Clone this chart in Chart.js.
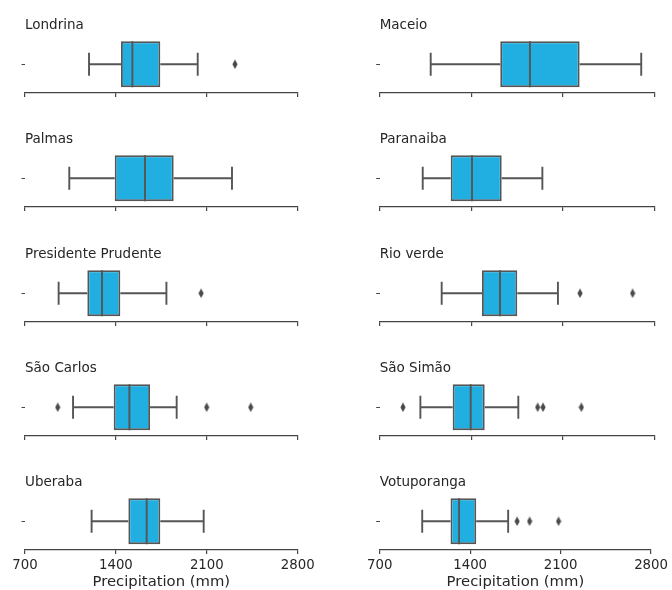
<!DOCTYPE html>
<html lang="en">
<head>
    <meta charset="UTF-8">
    <title>Precipitation by station</title>
    <script src="https://cdn.jsdelivr.net/npm/chart.js"></script>
    <style>
        html, body {
            margin: 0;
            padding: 0;
            background: #fff;
        }
        body {
            width: 672px;
            height: 590px;
            position: relative;
            overflow: hidden;
        }
        canvas {
            position: absolute;
        }
    </style>
</head>
<body>
    <div id="grid"></div>

    <script>
        // stations in row order (left, right)
        const stations = ['Londrina', 'Maceio', 'Palmas', 'Paranaiba', 'Presidente Prudente',
            'Rio verde', 'São Carlos', 'São Simão', 'Uberaba', 'Votuporanga'];
        const whiskerLow = [1193, 1090, 1041, 1029, 959, 1174, 1070, 1011, 1213, 1029];
        const q1 = [1439, 1622, 1391, 1243, 1180, 1482, 1383, 1258, 1496, 1248];
        const median = [1527, 1849, 1624, 1406, 1293, 1620, 1504, 1396, 1637, 1314];
        const q3 = [1742, 2229, 1845, 1633, 1434, 1752, 1663, 1503, 1742, 1447];
        const whiskerHigh = [2030, 2700, 2294, 1944, 1789, 2063, 1868, 1760, 2076, 1694];
        const outliers = [[2317], [], [], [], [2056], [2232, 2634],
            [952, 2099, 2438], [878, 1908, 1949, 2242], [], [1763, 1860, 2084]];
        const xTicks = [700, 1400, 2100, 2800];
        const xLabel = 'Precipitation (mm)';

        const boxFill = '#21afe1';
        const lineGray = '#555555';
        const axisGray = '#444444';
        const textColor = '#262626';
        const font = 'DejaVu Sans';

        // thin diamond marker like matplotlib's 'd'
        const diamond = document.createElement('canvas');
        diamond.width = 6;
        diamond.height = 10;
        const dctx = diamond.getContext('2d');
        dctx.fillStyle = '#4a4a4a';
        dctx.beginPath();
        dctx.moveTo(3, 0.3);
        dctx.lineTo(5.6, 5);
        dctx.lineTo(3, 9.7);
        dctx.lineTo(0.4, 5);
        dctx.closePath();
        dctx.fill();

        const BOX_HALF = 0.4;
        const CAP_HALF = 0.2;

        function seg(points) {
            return {
                type: 'line',
                data: points,
                borderColor: lineGray,
                borderWidth: 1.9,
                pointRadius: 0,
                fill: false,
                xAxisID: 'x',
                yAxisID: 'y2',
                order: 1
            };
        }

        const grid = document.getElementById('grid');

        stations.forEach((name, i) => {
            const col = i % 2;
            const row = Math.floor(i / 2);
            const last = row === 4;
            const top = Math.round(row * 114.3);
            const height = last ? 590 - top : 114;

            const canvas = document.createElement('canvas');
            canvas.width = 336;
            canvas.height = height;
            canvas.style.left = (col * 336) + 'px';
            canvas.style.top = top + 'px';
            grid.appendChild(canvas);

            const yWidth = col === 0 ? 25 : 43.7;
            const padRight = col === 0 ? 38.3 : 17.7;

            new Chart(canvas, {
                data: {
                    datasets: [
                        {
                            type: 'bar',
                            indexAxis: 'y',
                            data: [[q1[i], q3[i]]],
                            backgroundColor: boxFill,
                            borderColor: lineGray,
                            borderWidth: 1.9,
                            borderSkipped: false,
                            barPercentage: 0.8,
                            categoryPercentage: 1,
                            xAxisID: 'x',
                            yAxisID: 'y',
                            order: 2
                        },
                        seg([{ x: whiskerLow[i], y: 0 }, { x: q1[i], y: 0 }]),
                        seg([{ x: q3[i], y: 0 }, { x: whiskerHigh[i], y: 0 }]),
                        seg([{ x: whiskerLow[i], y: -CAP_HALF }, { x: whiskerLow[i], y: CAP_HALF }]),
                        seg([{ x: whiskerHigh[i], y: -CAP_HALF }, { x: whiskerHigh[i], y: CAP_HALF }]),
                        seg([{ x: median[i], y: -BOX_HALF }, { x: median[i], y: BOX_HALF }]),
                        {
                            type: 'line',
                            data: outliers[i].map(v => ({ x: v, y: 0 })),
                            showLine: false,
                            pointStyle: diamond,
                            pointRadius: 4,
                            xAxisID: 'x',
                            yAxisID: 'y2',
                            order: 0
                        }
                    ]
                },
                options: {
                    responsive: false,
                    animation: false,
                    layout: { padding: { left: 0, right: padRight, top: 0, bottom: 0 } },
                    plugins: {
                        legend: { display: false },
                        tooltip: { enabled: false },
                        title: {
                            display: true,
                            text: name,
                            align: 'start',
                            fullSize: false,
                            color: textColor,
                            font: { family: font, size: 13.5, weight: 'normal' },
                            padding: { top: 17.4, bottom: 2.0 }
                        }
                    },
                    scales: {
                        x: {
                            type: 'linear',
                            position: 'bottom',
                            min: 700,
                            max: 2800,
                            afterBuildTicks: s => { s.ticks = xTicks.map(v => ({ value: v })); },
                            afterFit: s => { s.height = last ? 40 : 21; },
                            border: { display: true, color: axisGray, width: 1.2 },
                            grid: { display: true, drawOnChartArea: false, drawTicks: true, tickLength: 4, color: axisGray, lineWidth: 1.2 },
                            ticks: {
                                display: last,
                                color: textColor,
                                padding: 4,
                                maxRotation: 0,
                                font: { family: font, size: 13.3 },
                                callback: v => String(v)
                            },
                            title: {
                                display: last,
                                text: xLabel,
                                color: textColor,
                                padding: { top: 0, bottom: -1.5 },
                                font: { family: font, size: 14.8 }
                            }
                        },
                        y: {
                            type: 'category',
                            labels: [''],
                            offset: true,
                            afterFit: s => { s.width = yWidth; },
                            border: { display: false },
                            grid: { display: true, offset: false, drawOnChartArea: false, drawTicks: true, tickLength: 3.5, color: axisGray, lineWidth: 1 },
                            ticks: { display: false }
                        },
                        y2: {
                            type: 'linear',
                            min: -0.5,
                            max: 0.5,
                            display: false
                        }
                    }
                }
            });
        });
    </script>
</body>
</html>
